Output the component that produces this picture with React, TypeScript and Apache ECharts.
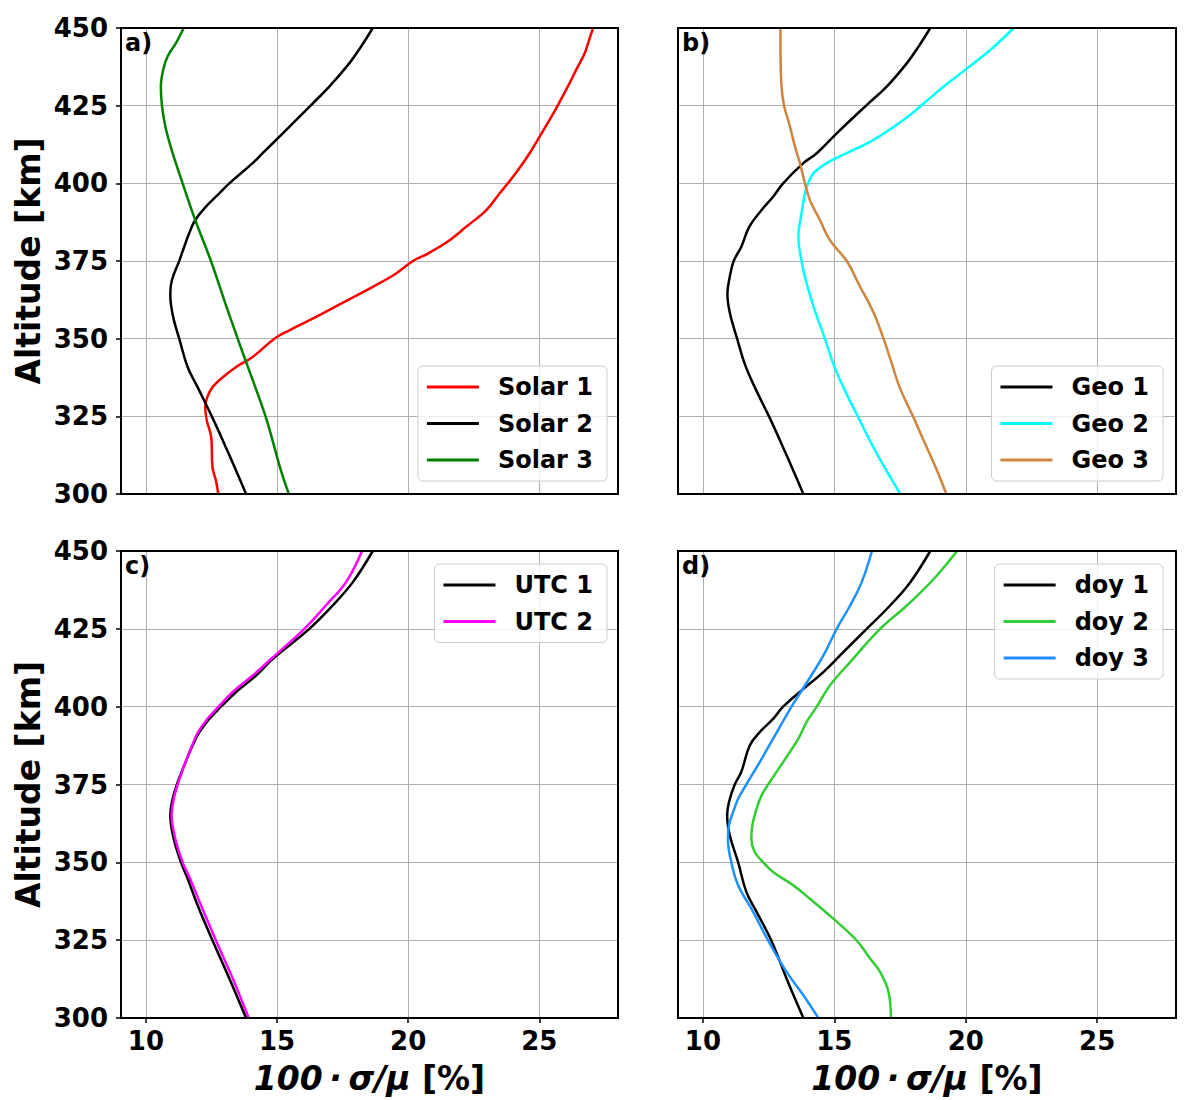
import React, { useEffect, useRef } from "react";
import * as echarts from "echarts";

// ---- data: [value (%), altitude (km)] ----
const solar1: [number, number][] = [
  [12.76, 300], [12.67, 304.3], [12.54, 308.6], [12.49, 318.3], [12.32, 323.7], [12.26, 328],
  [12.34, 331.2], [12.54, 334.4], [12.93, 337.6], [13.44, 340.9], [14.07, 344.1], [14.9, 350],
  [15.47, 352.7], [16.49, 357], [17.44, 361.3], [18.65, 366.7], [19.54, 371], [20.18, 375],
  [20.75, 377.4], [21.58, 381.7], [22.21, 386], [22.98, 391.4], [23.49, 396.8], [23.8, 400],
  [24.19, 404.3], [24.63, 409.7], [25.01, 415], [25.39, 420.4], [25.71, 425.2], [26.09, 431.2],
  [26.41, 436.6], [26.73, 441.9], [26.9, 446.2], [27.05, 450],
];
const solar2: [number, number][] = [
  [13.82, 300], [13.44, 307.5], [13.05, 315], [12.54, 324.5], [11.97, 334.4], [11.59, 340.9],
  [11.27, 350], [11.06, 356.2], [10.95, 361.3], [10.93, 364.5], [10.99, 368.8], [11.27, 375],
  [11.46, 379.6], [11.65, 383.9], [11.88, 388.2], [12.29, 392.5], [12.8, 396.8], [13.18, 400],
  [14.07, 406.5], [14.45, 409.7], [15.22, 416.1], [16.3, 425.2], [17.0, 431.2], [17.76, 438.7],
  [18.21, 444.1], [18.65, 450],
];
const solar3: [number, number][] = [
  [15.45, 300], [15.15, 307.5], [14.83, 317.2], [14.58, 324.5], [14.17, 334.4], [13.75, 344.1],
  [13.5, 350], [13.03, 361.3], [12.48, 375], [11.88, 388.2], [11.4, 400], [11.02, 409.7],
  [10.74, 418.3], [10.61, 425.2], [10.57, 431.2], [10.66, 436.6], [10.83, 440.9], [11.15, 445.2],
  [11.44, 450],
];
const geo1: [number, number][] = [
  [13.82, 300], [13.44, 307.5], [13.05, 315], [12.54, 324.5], [11.97, 334.4], [11.59, 341.9],
  [11.3, 350], [11.02, 358.4], [10.93, 364.5], [11.02, 369.9], [11.17, 375], [11.46, 379.6],
  [11.76, 386], [12.23, 391.4], [12.67, 395.7], [13.05, 400], [13.82, 406.5], [14.33, 409.7],
  [15.09, 416.1], [16.23, 425.2], [17.0, 431.2], [17.76, 438.7], [18.21, 444.1], [18.65, 450],
];
const geo2: [number, number][] = [
  [17.51, 300], [16.62, 312.9], [15.92, 324.5], [15.34, 334.4], [14.96, 341.9], [14.64, 350],
  [14.2, 360.5], [13.88, 369.9], [13.75, 375], [13.63, 383], [13.75, 390.3], [13.88, 396.8],
  [14.0, 400], [14.2, 403.2], [14.71, 406.5], [15.47, 409.7], [16.49, 414], [17.63, 420.4],
  [18.33, 425.2], [19.16, 431.2], [19.99, 436.6], [20.94, 443], [21.83, 450],
];
const geo3: [number, number][] = [
  [19.26, 300], [18.91, 307.5], [18.4, 317.2], [18.02, 324.5], [17.48, 334.4], [17.19, 341.9],
  [16.87, 350], [16.49, 358.4], [15.98, 366.7], [15.47, 375], [14.83, 381.7], [14.45, 388.2],
  [14.07, 394.6], [13.88, 400], [13.69, 406.5], [13.5, 411.8], [13.31, 418.3], [13.08, 425.2],
  [12.99, 431.2], [12.95, 441.9], [12.95, 450],
];
const utc1: [number, number][] = [
  [13.82, 300], [13.18, 312.7], [12.54, 324.9], [11.97, 336.2], [11.59, 344.8], [11.34, 350],
  [11.06, 357.6], [10.93, 365.1], [11.02, 370.4], [11.18, 375], [11.46, 381.1], [11.78, 387.5],
  [12.04, 391.8], [12.42, 396.1], [12.86, 400], [13.44, 404.7], [14.2, 410], [14.83, 415.3],
  [16.23, 425], [17.12, 432.5], [17.89, 440], [18.65, 450],
];
const utc2: [number, number][] = [
  [13.92, 300], [13.31, 312.7], [12.67, 324.9], [12.1, 336.2], [11.68, 344.8], [11.4, 350],
  [11.12, 357.6], [10.98, 365.1], [11.06, 370.4], [11.21, 375], [11.46, 381.1], [11.76, 387.5],
  [11.99, 391.8], [12.35, 396.1], [12.77, 400], [13.31, 404.7], [14.07, 410], [14.77, 415.3],
  [16.04, 425], [16.86, 432.5], [17.63, 440], [18.24, 450],
];
const doy1: [number, number][] = [
  [13.82, 300], [13.18, 312.7], [12.6, 324.9], [12.04, 334.1], [11.65, 340.5], [11.34, 350],
  [11.02, 358.7], [10.92, 365.1], [10.99, 369.4], [11.21, 375], [11.46, 379.1], [11.78, 387.5],
  [12.16, 391.8], [12.67, 396.1], [13.05, 400], [13.82, 405.7], [14.58, 411.1], [15.34, 417.5],
  [16.23, 425], [17.12, 432.5], [17.89, 440], [18.65, 450],
];
const doy2: [number, number][] = [
  [17.15, 300], [17.06, 308.4], [16.74, 314.8], [16.36, 319.1], [15.85, 324.9], [14.96, 331.9],
  [14.07, 338.3], [13.44, 342.6], [12.67, 346.9], [12.29, 350], [11.97, 353.3], [11.84, 357.6],
  [11.88, 361.9], [12.04, 367.2], [12.23, 371.5], [12.48, 375], [13.05, 382.2], [13.63, 389.7],
  [13.94, 395], [14.33, 400], [14.83, 406.8], [15.6, 414.3], [16.74, 425], [17.76, 432.5],
  [18.78, 441], [19.67, 450],
];
const doy3: [number, number][] = [
  [14.39, 300], [13.82, 307.3], [13.18, 314.8], [12.48, 324.9], [11.91, 334.1], [11.34, 342.6],
  [11.08, 350], [10.95, 357.6], [10.99, 361.9], [11.15, 366.2], [11.34, 370.4], [11.65, 375],
  [12.16, 382.2], [12.67, 389.7], [13.37, 400], [13.88, 406.8], [14.58, 416.4], [15.09, 425],
  [15.6, 432.5], [16.04, 440], [16.43, 450],
];

const xTicks = [10, 15, 20, 25];
const X_MIN = 9.05;
const X_MAX = 28.0;
const Y_MIN = 300;
const Y_MAX = 450;
const Y_STEP = 25;

const panelLabels = ["a)", "b)", "c)", "d)"];
const panels = [
  { names: ["Solar 1", "Solar 2", "Solar 3"], data: [solar1, solar2, solar3], colors: ["#ff0000", "#000000", "#008000"] },
  { names: ["Geo 1", "Geo 2", "Geo 3"], data: [geo1, geo2, geo3], colors: ["#000000", "#00ffff", "#cd853f"] },
  { names: ["UTC 1", "UTC 2"], data: [utc1, utc2], colors: ["#000000", "#ff00ff"] },
  { names: ["doy 1", "doy 2", "doy 3"], data: [doy1, doy2, doy3], colors: ["#000000", "#32cd32", "#1e90ff"] },
];

const FONT = "DejaVu Sans";

export default function App() {
  const ref = useRef<HTMLDivElement>(null);
  useEffect(() => {
    if (!ref.current) return;
    const chart = echarts.init(ref.current, undefined, { renderer: "svg" });

    const gridPos = [
      { left: 121, top: 28, width: 497, height: 466 },
      { left: 678, top: 28, width: 498, height: 466 },
      { left: 121, top: 551, width: 497, height: 467 },
      { left: 678, top: 551, width: 498, height: 467 },
    ];
    const legendPos = [
      { right: 593, top: 366 },
      { right: 37, top: 366 },
      { right: 593, top: 564 },
      { right: 37, top: 564 },
    ];

    const grids = gridPos.map((g) => ({
      ...g,
      show: true,
      borderColor: "#000",
      borderWidth: 2,
      backgroundColor: "transparent",
      z: 5,
    }));

    const xAxes = gridPos.map((_, i) => {
      const bottom = i >= 2;
      return {
        type: "value",
        gridIndex: i,
        min: X_MIN,
        max: X_MAX,
        splitNumber: 4,
        minInterval: 5,
        maxInterval: 5,
        axisLine: { show: false },
        axisTick: {
          show: bottom,
          customValues: xTicks,
          inside: false,
          length: 5,
          lineStyle: { color: "#000", width: 1.5 },
        },
        axisLabel: {
          show: bottom,
          customValues: xTicks,
          margin: 10,
          color: "#000",
          fontSize: 26,
          fontWeight: "bold",
          fontFamily: FONT,
        },
        splitLine: { show: true, lineStyle: { color: "#b0b0b0", width: 1 } },
      };
    });

    const yAxes = gridPos.map((_, i) => {
      const left = i % 2 === 0;
      return {
        type: "value",
        gridIndex: i,
        min: Y_MIN,
        max: Y_MAX,
        interval: Y_STEP,
        axisLine: { show: false },
        axisTick: {
          show: left,
          inside: false,
          length: 5,
          lineStyle: { color: "#000", width: 1.5 },
        },
        axisLabel: {
          show: left,
          margin: 13,
          color: "#000",
          fontSize: 26,
          fontWeight: "bold",
          fontFamily: FONT,
        },
        splitLine: { show: true, lineStyle: { color: "#b0b0b0", width: 1 } },
      };
    });

    const series: any[] = [];
    panels.forEach((p, i) => {
      p.names.forEach((name, k) => {
        series.push({
          type: "line",
          name,
          xAxisIndex: i,
          yAxisIndex: i,
          data: p.data[k],
          showSymbol: false,
          symbol: "none",
          smooth: 0.4,
          color: p.colors[k],
          lineStyle: { color: p.colors[k], width: 2.5 },
          clip: true,
          z: 2,
        });
      });
    });

    const legends = panels.map((p, i) => ({
      ...legendPos[i],
      orient: "vertical",
      data: p.names,
      selectedMode: false,
      icon: "rect",
      itemWidth: 52,
      itemHeight: 3,
      itemGap: 10.5,
      padding: [8, 14, 8, 9],
      backgroundColor: "rgba(255,255,255,0.8)",
      borderColor: "#cccccc",
      borderWidth: 1,
      borderRadius: 5,
      textStyle: {
        color: "#000",
        fontSize: 24,
        fontWeight: "bold",
        fontFamily: FONT,
        lineHeight: 26,
        padding: [0, 0, 0, 14],
      },
      z: 10,
    }));

    const labelStyle = { fontWeight: "bold", fontSize: 24, fontFamily: FONT, fill: "#000" };
    const graphics: any[] = [];
    gridPos.forEach((g, i) => {
      graphics.push({
        type: "text",
        x: g.left + 4,
        y: g.top + 3,
        z: 20,
        style: { ...labelStyle, text: panelLabels[i], align: "left", verticalAlign: "top" },
      });
    });
    [gridPos[0], gridPos[2]].forEach((g) => {
      graphics.push({
        type: "text",
        x: 28,
        y: g.top + g.height / 2,
        rotation: Math.PI / 2,
        style: {
          text: "Altitude [km]",
          fontWeight: "bold",
          fontSize: 33,
          fontFamily: FONT,
          fill: "#000",
          align: "center",
          verticalAlign: "middle",
        },
      });
    });
    [gridPos[2], gridPos[3]].forEach((g) => {
      graphics.push({
        type: "text",
        x: g.left + g.width / 2,
        y: 1078,
        style: {
          text: "{i|100\u2009·\u2009σ/μ }{n|[%]}",
          align: "center",
          verticalAlign: "middle",
          fill: "#000",
          rich: {
            i: { fontStyle: "italic", fontWeight: "bold", fontSize: 33, fontFamily: FONT, fill: "#000" },
            n: { fontWeight: "bold", fontSize: 33, fontFamily: FONT, fill: "#000" },
          },
        },
      });
    });

    chart.setOption({
      animation: false,
      backgroundColor: "#ffffff",
      textStyle: { fontFamily: FONT },
      grid: grids,
      xAxis: xAxes,
      yAxis: yAxes,
      legend: legends,
      series,
      graphic: graphics,
    });

    return () => chart.dispose();
  }, []);

  return (
    <div
      ref={ref}
      style={{ position: "absolute", left: 0, top: 0, width: 1200, height: 1100 }}
    />
  );
}
